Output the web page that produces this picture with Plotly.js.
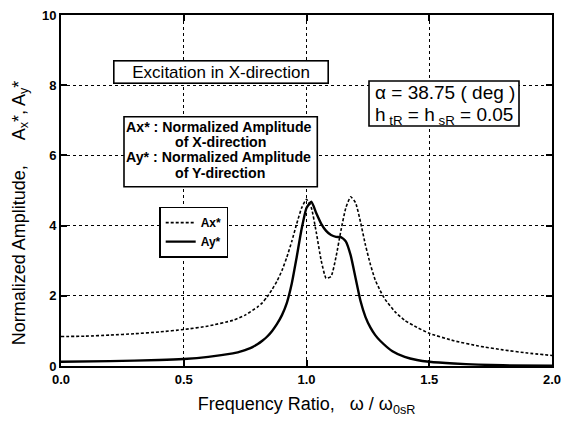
<!DOCTYPE html>
<html>
<head>
<meta charset="utf-8">
<script src="https://cdn.plot.ly/plotly-3.0.1.min.js"></script>
<style>html,body{margin:0;padding:0;background:#fff;}#chart{width:565px;height:425px;}</style>
</head>
<body>
<div id="chart"></div>
<script>
// Frequency ratio samples and amplitudes
const xAx = [0, 0.1, 0.2, 0.3, 0.4, 0.5, 0.6, 0.7, 0.75, 0.80, 0.82, 0.84, 0.86, 0.88, 0.90, 0.92, 0.94, 0.96, 0.98, 1.00, 1.02, 1.04, 1.06, 1.08, 1.10, 1.12, 1.14, 1.16, 1.18, 1.20, 1.22, 1.24, 1.26, 1.28, 1.30, 1.32, 1.36, 1.40, 1.45, 1.5, 1.6, 1.7, 1.8, 1.9, 2.0];
const Ax  = [0.84, 0.85, 0.88, 0.92, 0.97, 1.04, 1.14, 1.3, 1.45, 1.68, 1.8, 1.97, 2.18, 2.42, 2.72, 3.1, 3.55, 4.05, 4.5, 4.75, 4.5, 3.8, 3.0, 2.5, 2.55, 3.1, 3.85, 4.5, 4.82, 4.65, 4.1, 3.45, 2.9, 2.45, 2.15, 1.9, 1.55, 1.3, 1.1, 0.93, 0.72, 0.57, 0.46, 0.37, 0.3];

const xAy = [0, 0.2, 0.4, 0.5, 0.6, 0.7, 0.72, 0.74, 0.76, 0.78, 0.80, 0.82, 0.84, 0.86, 0.88, 0.90, 0.92, 0.94, 0.96, 0.98, 1.00, 1.02, 1.04, 1.06, 1.08, 1.10, 1.12, 1.14, 1.16, 1.18, 1.20, 1.22, 1.24, 1.26, 1.28, 1.30, 1.35, 1.40, 1.45, 1.5, 1.6, 1.7, 1.8, 2.0];
const Ay  = [0.12, 0.14, 0.17, 0.2, 0.26, 0.36, 0.39, 0.43, 0.48, 0.54, 0.62, 0.72, 0.84, 1.0, 1.2, 1.45, 1.8, 2.35, 3.1, 3.9, 4.5, 4.68, 4.35, 4.05, 3.85, 3.73, 3.68, 3.67, 3.55, 3.15, 2.5, 1.85, 1.4, 1.1, 0.88, 0.72, 0.42, 0.26, 0.17, 0.12, 0.07, 0.04, 0.02, 0.01];

const xTicks = [0, 0.5, 1.0, 1.5, 2.0];
const yTicks = [0, 2, 4, 6, 8, 10];

const FONT = "Liberation Sans, Arial, Helvetica, sans-serif";
const NB = n => "&nbsp;".repeat(n);

const traces = [
  {x: xAx, y: Ax, name: "Ax*", mode: "lines",
   line: {color: "#000", width: 1.6, dash: "3px,2px", shape: "spline", smoothing: 0.5}},
  {x: xAy, y: Ay, name: "Ay*", mode: "lines",
   line: {color: "#000", width: 2.4, shape: "spline", smoothing: 0.5}}
];

const axisCommon = {
  showline: true, linecolor: "#000", linewidth: 2, mirror: "ticks",
  ticks: "inside", ticklen: 6, tickwidth: 2, tickcolor: "#000",
  showgrid: true, gridcolor: "#000", gridwidth: 1, griddash: "dot",
  zeroline: false,
  tickfont: {family: FONT, size: 13, color: "#000", weight: "bold"}
};

const ann = (x, y, text, size, weight) => ({
  xref: "paper", yref: "paper", x: x, y: y, xanchor: "left", yanchor: "middle",
  text: text, showarrow: false, align: "left",
  font: {family: FONT, size: size, color: "#000", weight: weight || "normal"}
});

const layout = {
  width: 565, height: 425,
  margin: {l: 61, r: 13, t: 15, b: 59},
  paper_bgcolor: "#fff", plot_bgcolor: "#fff",
  font: {family: FONT, color: "#000"},
  xaxis: Object.assign({}, axisCommon, {
    range: [0, 2], tickvals: xTicks, tickformat: ".1f",
    title: {text: "Frequency Ratio," + NB(3) + "ω / ω<sub>0sR</sub>", font: {family: FONT, size: 18}, standoff: 12}
  }),
  yaxis: Object.assign({}, axisCommon, {
    range: [0, 10], tickvals: yTicks,
    title: {text: "Normalized Amplitude," + NB(5) + "A<sub>x</sub>*, A<sub>y</sub>*" + NB(9), font: {family: FONT, size: 18}, standoff: 12}
  }),
  showlegend: true,
  legend: {x: 0.2, y: 0.454, xanchor: "left", yanchor: "top",
    bgcolor: "#fff", bordercolor: "#000", borderwidth: 1.5,
    font: {family: FONT, size: 12, color: "#000", weight: "bold"}, tracegroupgap: 0, itemwidth: 30},
  shapes: [
    {type: "rect", xref: "paper", yref: "paper", x0: 0.1283, x1: 0.522, y0: 0.5108, y1: 0.7103,
     line: {color: "#000", width: 1.6}, fillcolor: "#fff", layer: "above"},
    {type: "rect", xref: "paper", yref: "paper", x0: 0.6273, x1: 0.9328, y0: 0.6838, y1: 0.812,
     line: {color: "#000", width: 1.6}, fillcolor: "#fff", layer: "above"}
  ],
  annotations: [
    {xref: "paper", yref: "paper", x: 0.325, y: 0.838, xanchor: "center", yanchor: "middle",
     text: "Excitation in X-direction", showarrow: false,
     font: {family: FONT, size: 17, color: "#000"},
     bgcolor: "#fff", bordercolor: "#000", borderwidth: 1.6, borderpad: 1, width: 211, height: 19},
    ann(0.1283, 0.6818, "Ax* : Normalized Amplitude", 14.2, "bold"),
    ann(0.2275, 0.6390, "of X-direction", 14.2, "bold"),
    ann(0.1283, 0.5946, "Ay* : Normalized Amplitude", 14.2, "bold"),
    ann(0.2275, 0.5507, "of Y-direction", 14.2, "bold"),
    ann(0.6355, 0.7778, "α = 38.75 ( deg )", 19),
    ann(0.6355, 0.7123, "h<sub> tR</sub> = h<sub> sR</sub> = 0.05", 19)
  ]
};

Plotly.newPlot("chart", traces, layout, {displayModeBar: false, staticPlot: true});
</script>
</body>
</html>
